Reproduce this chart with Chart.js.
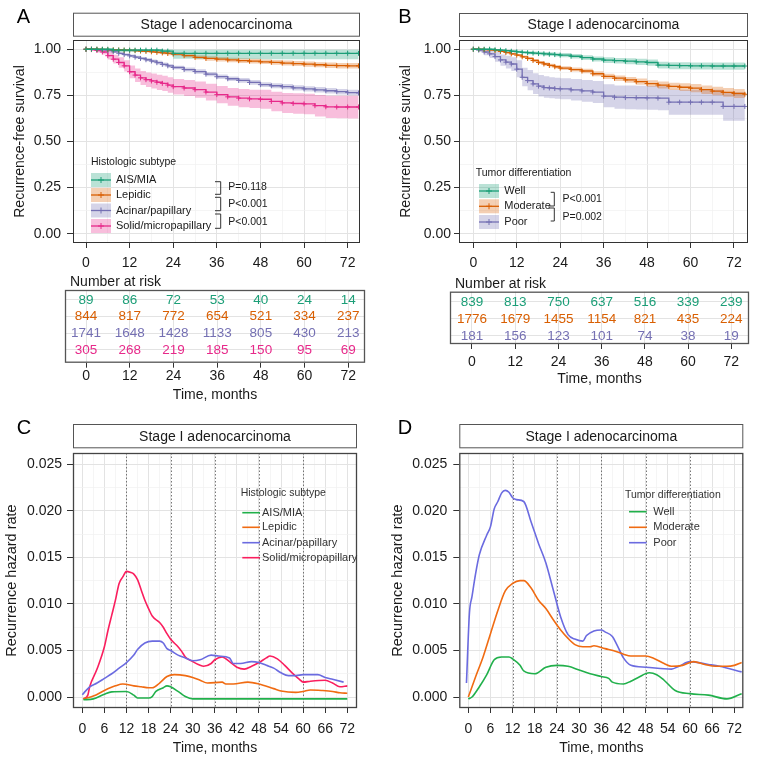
<!DOCTYPE html>
<html>
<head>
<meta charset="utf-8">
<script src="https://cdn.jsdelivr.net/npm/chart.js@4.4.0/dist/chart.umd.min.js"></script>
<style>
  body { margin: 0; background: #fff; }
  #wrap { position: relative; width: 759px; height: 759px; overflow: hidden; background: #fff; }
  canvas { position: absolute; }
</style>
</head>
<body>
<div id="wrap"></div>
<script>
// ---------- data ----------
const groupsA = ["AIS/MIA", "Lepidic", "Acinar/papillary", "Solid/micropapillary"];
const groupsB = ["Well", "Moderate", "Poor"];
const pvalsA = ["P=0.118", "P<0.001", "P<0.001"];
const pvalsB = ["P<0.001", "P=0.002"];

// Kaplan-Meier estimates read off panels A and B (months)
const kmTimes = [0, 1.5, 3, 4.5, 6, 7.5, 9, 10.5, 12, 13.5, 15, 16.5, 18, 19.5, 21, 22.5, 24,
  27, 30, 33, 36, 39, 42, 45, 48, 51, 54, 57, 60, 63, 66, 69, 72, 75];

const survAis = [1, 1, 1, 1, 1, 0.995, 0.995, 0.995, 0.995, 0.995, 0.995, 0.995, 0.995, 0.995, 0.99, 0.99, 0.978,
  0.978, 0.978, 0.978, 0.978, 0.978, 0.978, 0.978, 0.978, 0.978, 0.978, 0.978, 0.978, 0.978, 0.978, 0.978, 0.978, 0.978];
const lowAis  = [1, 1, 1, 1, 1, 0.985, 0.985, 0.985, 0.985, 0.985, 0.985, 0.985, 0.985, 0.985, 0.975, 0.975, 0.948,
  0.948, 0.947, 0.947, 0.947, 0.947, 0.947, 0.947, 0.946, 0.946, 0.946, 0.946, 0.946, 0.946, 0.946, 0.946, 0.946, 0.946];
const upAis   = [1, 1, 1, 1, 1, 1, 1, 1, 1, 1, 1, 1, 1, 1, 0.998, 0.998, 0.997,
  0.997, 0.997, 0.997, 0.997, 0.997, 0.997, 0.997, 0.997, 0.997, 0.997, 0.997, 0.997, 0.997, 0.997, 0.997, 0.997, 0.997];

const survLep = [1, 1, 1, 0.999, 0.998, 0.997, 0.996, 0.995, 0.994, 0.992, 0.99, 0.988, 0.986, 0.983, 0.98, 0.977, 0.973,
  0.965, 0.956, 0.95, 0.946, 0.942, 0.938, 0.935, 0.932, 0.929, 0.925, 0.922, 0.919, 0.916, 0.913, 0.911, 0.91, 0.91];
const lowLep  = [1, 1, 1, 0.997, 0.995, 0.994, 0.992, 0.99, 0.989, 0.987, 0.984, 0.982, 0.979, 0.976, 0.972, 0.968, 0.964,
  0.955, 0.945, 0.938, 0.934, 0.93, 0.926, 0.923, 0.92, 0.916, 0.912, 0.909, 0.905, 0.902, 0.898, 0.896, 0.895, 0.894];
const upLep   = [1, 1, 1, 1, 1, 1, 1, 1, 0.999, 0.998, 0.996, 0.995, 0.993, 0.991, 0.988, 0.985, 0.982,
  0.975, 0.967, 0.962, 0.958, 0.954, 0.951, 0.948, 0.945, 0.942, 0.939, 0.936, 0.933, 0.93, 0.928, 0.926, 0.925, 0.925];

const survAci = [1, 1, 0.998, 0.996, 0.992, 0.986, 0.978, 0.971, 0.964, 0.957, 0.95, 0.943, 0.936, 0.927, 0.918, 0.91, 0.901,
  0.89, 0.879, 0.865, 0.851, 0.84, 0.831, 0.82, 0.808, 0.802, 0.797, 0.791, 0.785, 0.78, 0.775, 0.77, 0.765, 0.763];
const lowAci  = [1, 1, 0.996, 0.993, 0.988, 0.981, 0.972, 0.964, 0.957, 0.949, 0.942, 0.935, 0.927, 0.917, 0.908, 0.9, 0.891,
  0.879, 0.867, 0.853, 0.839, 0.828, 0.818, 0.807, 0.795, 0.788, 0.783, 0.777, 0.771, 0.765, 0.76, 0.755, 0.75, 0.748];
const upAci   = [1, 1, 1, 0.999, 0.996, 0.991, 0.984, 0.978, 0.971, 0.965, 0.958, 0.952, 0.945, 0.937, 0.928, 0.92, 0.911,
  0.901, 0.891, 0.877, 0.863, 0.852, 0.844, 0.833, 0.821, 0.816, 0.811, 0.805, 0.799, 0.795, 0.79, 0.785, 0.78, 0.778];

const survSol = [1, 0.998, 0.993, 0.985, 0.965, 0.946, 0.928, 0.91, 0.878, 0.86, 0.845, 0.835, 0.828, 0.821, 0.815, 0.806, 0.797,
  0.79, 0.781, 0.768, 0.754, 0.742, 0.735, 0.731, 0.729, 0.717, 0.709, 0.706, 0.704, 0.694, 0.688, 0.687, 0.687, 0.687];
const lowSol  = [1, 0.99, 0.982, 0.971, 0.944, 0.922, 0.9, 0.879, 0.843, 0.823, 0.806, 0.795, 0.787, 0.779, 0.773, 0.764, 0.755,
  0.747, 0.737, 0.722, 0.707, 0.694, 0.686, 0.681, 0.678, 0.664, 0.655, 0.651, 0.647, 0.636, 0.628, 0.626, 0.625, 0.624];
const upSol   = [1, 1, 1, 0.996, 0.985, 0.97, 0.956, 0.94, 0.912, 0.896, 0.882, 0.874, 0.868, 0.862, 0.856, 0.848, 0.839,
  0.833, 0.825, 0.813, 0.801, 0.79, 0.784, 0.781, 0.78, 0.77, 0.763, 0.761, 0.759, 0.752, 0.748, 0.748, 0.748, 0.748];

const survWell = [1, 1, 1, 1, 0.997, 0.995, 0.992, 0.989, 0.986, 0.983, 0.981, 0.979, 0.977, 0.975, 0.973, 0.971, 0.968,
  0.962, 0.955, 0.947, 0.941, 0.938, 0.935, 0.932, 0.928, 0.914, 0.912, 0.911, 0.91, 0.91, 0.909, 0.909, 0.909, 0.909];
const lowWell  = [1, 1, 1, 0.998, 0.994, 0.991, 0.987, 0.983, 0.979, 0.976, 0.973, 0.97, 0.968, 0.965, 0.963, 0.96, 0.957,
  0.95, 0.942, 0.933, 0.926, 0.922, 0.918, 0.914, 0.91, 0.895, 0.892, 0.891, 0.89, 0.89, 0.889, 0.889, 0.889, 0.889];
const upWell   = [1, 1, 1, 1, 1, 0.999, 0.997, 0.995, 0.993, 0.991, 0.989, 0.988, 0.986, 0.985, 0.983, 0.981, 0.979,
  0.974, 0.968, 0.961, 0.956, 0.953, 0.951, 0.949, 0.945, 0.932, 0.93, 0.929, 0.928, 0.928, 0.928, 0.928, 0.928, 0.928];

const survMod = [1, 1, 0.998, 0.996, 0.993, 0.988, 0.982, 0.975, 0.968, 0.959, 0.95, 0.939, 0.928, 0.92, 0.912, 0.905, 0.898,
  0.89, 0.882, 0.867, 0.853, 0.843, 0.834, 0.824, 0.814, 0.806, 0.799, 0.794, 0.789, 0.781, 0.773, 0.766, 0.76, 0.756];
const lowMod  = [1, 0.998, 0.995, 0.992, 0.989, 0.983, 0.977, 0.969, 0.962, 0.952, 0.943, 0.931, 0.92, 0.911, 0.903, 0.895, 0.888,
  0.879, 0.87, 0.854, 0.839, 0.828, 0.818, 0.807, 0.796, 0.787, 0.779, 0.773, 0.767, 0.758, 0.75, 0.742, 0.736, 0.732];
const upMod   = [1, 1, 1, 0.999, 0.997, 0.993, 0.987, 0.981, 0.974, 0.966, 0.957, 0.947, 0.936, 0.928, 0.921, 0.914, 0.908,
  0.901, 0.894, 0.88, 0.867, 0.858, 0.85, 0.841, 0.832, 0.825, 0.819, 0.815, 0.811, 0.804, 0.796, 0.79, 0.784, 0.78];

const survPoor = [1, 0.995, 0.985, 0.975, 0.96, 0.942, 0.93, 0.92, 0.892, 0.848, 0.83, 0.812, 0.8, 0.792, 0.79, 0.787, 0.785,
  0.78, 0.774, 0.768, 0.746, 0.74, 0.738, 0.737, 0.736, 0.735, 0.713, 0.713, 0.713, 0.713, 0.713, 0.69, 0.69, 0.69];
const lowPoor  = [1, 0.985, 0.967, 0.952, 0.932, 0.91, 0.895, 0.882, 0.848, 0.8, 0.778, 0.758, 0.744, 0.737, 0.735, 0.732, 0.729,
  0.722, 0.715, 0.708, 0.685, 0.677, 0.675, 0.673, 0.672, 0.67, 0.645, 0.645, 0.645, 0.645, 0.645, 0.613, 0.613, 0.613];
const upPoor   = [1, 1, 1, 0.995, 0.985, 0.972, 0.964, 0.956, 0.94, 0.9, 0.888, 0.87, 0.86, 0.853, 0.848, 0.846, 0.843,
  0.838, 0.833, 0.828, 0.81, 0.804, 0.803, 0.802, 0.801, 0.8, 0.781, 0.781, 0.781, 0.781, 0.781, 0.767, 0.767, 0.767];

// number at risk
const riskTimes = [0, 12, 24, 36, 48, 60, 72];
const riskAis  = [89, 86, 72, 53, 40, 24, 14];
const riskLep  = [844, 817, 772, 654, 521, 334, 237];
const riskAci  = [1741, 1648, 1428, 1133, 805, 430, 213];
const riskSol  = [305, 268, 219, 185, 150, 95, 69];
const riskWell = [839, 813, 750, 637, 516, 339, 239];
const riskMod  = [1776, 1679, 1455, 1154, 821, 435, 224];
const riskPoor = [181, 156, 123, 101, 74, 38, 19];

// hazard curves, panel C
const hzAisT = [0.3, 3, 6, 8, 12, 14, 15, 18, 19, 20, 22, 23, 24, 26, 28, 30, 40, 50, 60, 72];
const hzAis  = [-0.0003, -0.0002, 0.0003, 0.00055, 0.0006, 0.0002, -0.0001, -0.0001, 0.00005, 0.0006, 0.001, 0.0012, 0.0011, 0.0006, 0.00005, -0.0002, -0.0002, -0.0002, -0.0002, -0.0002];
const hzLepT = [0.3, 3, 6, 9, 11, 14, 16, 18, 19, 21, 23, 25, 28, 30, 32, 34, 38, 39, 41, 45, 48, 52, 54, 58, 60, 62, 65, 68, 70, 72];
const hzLep  = [-0.0002, 0.0001, 0.0007, 0.0012, 0.0014, 0.0012, 0.0011, 0.001, 0.001, 0.0015, 0.0022, 0.0024, 0.0023, 0.0021, 0.0018, 0.0015, 0.0016, 0.0014, 0.0014, 0.0016, 0.0014, 0.0009, 0.00065, 0.0005, 0.0006, 0.00075, 0.0007, 0.0006, 0.00045, 0.0004];
const hzAciT = [0, 2, 4, 6, 8, 10, 12, 14, 15, 17, 19, 21, 22, 23, 24, 26, 28, 30, 32, 35, 37, 40, 41, 43, 46, 48, 50, 52, 54, 56, 58, 60, 64, 66, 68, 71];
const hzAci  = [0.00025, 0.0011, 0.0015, 0.002, 0.0025, 0.0031, 0.0037, 0.0045, 0.0051, 0.0058, 0.006, 0.006, 0.0058, 0.0052, 0.005, 0.0045, 0.0042, 0.0039, 0.004, 0.0045, 0.0044, 0.0042, 0.0036, 0.0036, 0.0038, 0.0037, 0.0034, 0.0031, 0.0026, 0.0023, 0.0023, 0.0024, 0.0024, 0.0021, 0.0019, 0.0016];
const hzSolT = [0.3, 1.5, 2, 4, 6, 7, 8, 9, 10, 11, 12, 13, 14, 15, 16, 17, 18, 19, 21, 22, 23, 24, 26, 27, 28, 30, 32, 33, 35, 36, 38, 40, 42, 44, 46, 48, 50, 51, 53, 55, 57, 59, 60, 62, 66, 68, 70, 72];
const hzSol  = [-0.0002, 0.0002, 0.0011, 0.003, 0.0054, 0.0072, 0.0088, 0.0104, 0.0122, 0.0129, 0.0135, 0.0134, 0.0132, 0.0126, 0.0115, 0.0104, 0.0095, 0.0087, 0.008, 0.0075, 0.0068, 0.0062, 0.0054, 0.0049, 0.0043, 0.0038, 0.0034, 0.0033, 0.0036, 0.004, 0.0043, 0.0038, 0.0032, 0.003, 0.0033, 0.0037, 0.0042, 0.0044, 0.0041, 0.0034, 0.0026, 0.0019, 0.0016, 0.0017, 0.0018, 0.0015, 0.0011, 0.0012];

// hazard curves, panel D
const hzWellT = [0, 1, 3, 5, 7, 9, 11, 12, 14, 15, 18, 21, 24, 27, 30, 33, 36, 38, 39, 42, 44, 46, 49, 51, 53, 56, 60, 65, 70, 74];
const hzWell  = [-0.0002, 0, 0.0011, 0.0024, 0.004, 0.0043, 0.0043, 0.0041, 0.0034, 0.0028, 0.0025, 0.0032, 0.0034, 0.0033, 0.0029, 0.0025, 0.0022, 0.002, 0.0016, 0.0014, 0.0017, 0.0021, 0.0026, 0.0024, 0.0018, 0.0007, 0.00036, 0.0002, -0.0002, 0.00036];
const hzModT = [0, 2, 4, 6, 8, 10, 12, 14, 15, 17, 19, 21, 23, 25, 27, 29, 31, 33, 34, 37, 40, 42, 44, 48, 50, 53, 55, 58, 61, 64, 67, 70, 72, 74];
const hzMod  = [0, 0.0022, 0.0043, 0.0068, 0.0093, 0.0114, 0.0122, 0.0125, 0.0125, 0.0117, 0.0104, 0.0095, 0.0083, 0.0072, 0.0063, 0.0056, 0.0054, 0.0054, 0.0055, 0.0052, 0.0049, 0.0046, 0.0044, 0.0044, 0.0042, 0.0036, 0.0033, 0.0034, 0.0038, 0.0035, 0.0033, 0.0033, 0.0034, 0.0037];
const hzPoorT = [-0.5, 0.3, 1, 2, 3, 5, 6, 7, 8, 9, 10, 11, 12, 13, 15, 17, 19, 21, 23, 25, 27, 29, 31, 32, 34, 36, 37, 39, 40, 42, 44, 48, 55, 57, 60, 65, 68, 74];
const hzPoor  = [0.0015, 0.009, 0.0108, 0.0133, 0.0153, 0.0174, 0.0183, 0.0202, 0.021, 0.0219, 0.0222, 0.022, 0.0214, 0.0212, 0.021, 0.0188, 0.0165, 0.0144, 0.0115, 0.0086, 0.0067, 0.0062, 0.006, 0.0066, 0.0071, 0.0072, 0.007, 0.0065, 0.0058, 0.0042, 0.0034, 0.0032, 0.003, 0.0033, 0.0038, 0.0035, 0.0033, 0.0027];

// ticks
const kmGridX = [0, 6, 12, 18, 24, 30, 36, 42, 48, 54, 60, 66, 72];
const kmLabelX = [0, 12, 24, 36, 48, 60, 72];
const kmGridY = [0, 0.125, 0.25, 0.375, 0.5, 0.625, 0.75, 0.875, 1];
const kmLabelY = [0, 0.25, 0.5, 0.75, 1];
const hzGridX = [0, 3, 6, 9, 12, 15, 18, 21, 24, 27, 30, 33, 36, 39, 42, 45, 48, 51, 54, 57, 60, 63, 66, 69, 72];
const hzLabelX = [0, 6, 12, 18, 24, 30, 36, 42, 48, 54, 60, 66, 72];
const hzGridY = [0, 0.0025, 0.005, 0.0075, 0.01, 0.0125, 0.015, 0.0175, 0.02, 0.0225, 0.025];
const hzLabelY = [0, 0.005, 0.01, 0.015, 0.02, 0.025];
const hzMarks = [12, 24, 36, 48, 60];

// ---------- style ----------
const FONT = "'Liberation Sans', Arial, Helvetica, sans-serif";
const kmCol = { green: "#1b9e77", orange: "#d95f02", purple: "#7570b3", pink: "#e7298a" };
const kmFill = { green: "rgba(27,158,119,0.3)", orange: "rgba(217,95,2,0.3)", purple: "rgba(117,112,179,0.3)", pink: "rgba(231,41,138,0.3)" };
const hzCol = { green: "#21b04b", orange: "#f06b12", blue: "#6b6be0", pink: "#fa1e5e" };

Chart.defaults.font.family = FONT;
Chart.defaults.color = "#1a1a1a";
Chart.defaults.animation = false;
Chart.defaults.plugins.legend.display = false;
Chart.defaults.plugins.tooltip.enabled = false;

function addCanvas(left, top, w, h) {
  const c = document.createElement("canvas");
  c.width = w; c.height = h;
  c.style.left = left + "px"; c.style.top = top + "px";
  c.style.width = w + "px"; c.style.height = h + "px";
  document.getElementById("wrap").appendChild(c);
  return c;
}

function near(v, list) { return list.some(m => Math.abs(m - v) < 1e-9); }

function axis(o) {
  const major = c => c.tick && near(c.tick.value, o.labels);
  return {
    type: "linear", min: o.min, max: o.max, reverse: !!o.reverse,
    afterBuildTicks: ax => { ax.ticks = o.grid.map(v => ({ value: v })); },
    afterFit: ax => { ax[o.fitKey] = o.fit; },
    ticks: {
      display: o.showLabels !== false, autoSkip: false, maxRotation: 0, minRotation: 0,
      padding: o.pad || 0, font: { size: o.size || 14, lineHeight: 1 }, color: "#1a1a1a",
      callback: v => near(v, o.labels) ? o.fmt(v) : ""
    },
    grid: {
      color: c => major(c) ? "#e3e3e3" : "#f1f1f1",
      lineWidth: c => major(c) ? 1 : 0.7,
      tickColor: c => major(c) ? "#333333" : "rgba(0,0,0,0)",
      tickWidth: 1, tickLength: o.tickLen || 0, drawTicks: !!o.tickLen
    },
    border: { display: false },
    title: o.title
      ? { display: true, text: o.title, color: "#1a1a1a", font: { size: o.titleSize || 14, lineHeight: 1 }, padding: o.titlePad }
      : { display: false }
  };
}

function decor(o) {
  return {
    id: "decor",
    beforeDatasetsDraw(chart) {
      if (!o.vlines) return;
      const { ctx, chartArea: a, scales: { x } } = chart;
      ctx.save();
      ctx.strokeStyle = "#555"; ctx.lineWidth = 0.8; ctx.setLineDash([1.5, 2]);
      o.vlines.forEach(v => {
        const px = Math.round(x.getPixelForValue(v)) + 0.5;
        ctx.beginPath(); ctx.moveTo(px, a.top); ctx.lineTo(px, a.bottom); ctx.stroke();
      });
      ctx.restore();
    },
    afterDraw(chart) {
      const { ctx, chartArea: a } = chart;
      ctx.save();
      ctx.strokeStyle = o.borderColor || "#333"; ctx.lineWidth = o.borderWidth || 1;
      ctx.strokeRect(a.left + 0.5, a.top + 0.5, a.right - a.left - 1, a.bottom - a.top - 1);
      ctx.translate(-o.off[0], -o.off[1]);
      if (o.strip) {
        const x1 = a.left + o.off[0], x2 = a.right + o.off[0];
        ctx.strokeStyle = "#555"; ctx.lineWidth = 1;
        ctx.strokeRect(x1 + 0.5, o.strip[0] + 0.5, x2 - x1 - 1, o.strip[1] - o.strip[0]);
        ctx.fillStyle = "#1a1a1a"; ctx.font = "14px " + FONT;
        ctx.textAlign = "center"; ctx.textBaseline = "middle";
        ctx.fillText("Stage I adenocarcinoma", (x1 + x2) / 2, (o.strip[0] + o.strip[1]) / 2 + 1);
      }
      if (o.label) {
        ctx.fillStyle = "#000"; ctx.font = "20px " + FONT;
        ctx.textAlign = "center"; ctx.textBaseline = "middle";
        ctx.fillText(o.label[0], o.label[1], o.label[2]);
      }
      if (o.note) {
        ctx.fillStyle = "#1a1a1a"; ctx.font = "14px " + FONT;
        ctx.textAlign = "left"; ctx.textBaseline = "middle";
        ctx.fillText(o.note[0], o.note[1], o.note[2]);
      }
      if (o.legend) o.legend(ctx);
      ctx.restore();
    }
  };
}

function cross(ctx, x, y, r) {
  ctx.beginPath();
  ctx.moveTo(x - r, y); ctx.lineTo(x + r, y);
  ctx.moveTo(x, y - r); ctx.lineTo(x, y + r);
  ctx.stroke();
}

function kmLegend(title, tx, ty, names, cols, fills, ys, kx, lx) {
  return ctx => {
    ctx.textAlign = "left"; ctx.textBaseline = "middle";
    ctx.fillStyle = "#1a1a1a"; ctx.font = "10.5px " + FONT;
    ctx.fillText(title, tx, ty);
    ctx.font = "11px " + FONT;
    names.forEach((n, i) => {
      const y = ys[i];
      ctx.fillStyle = fills[i]; ctx.fillRect(kx, y - 7, 20, 14);
      ctx.strokeStyle = cols[i]; ctx.lineWidth = 1.3;
      ctx.beginPath(); ctx.moveTo(kx, y); ctx.lineTo(kx + 20, y); ctx.stroke();
      ctx.lineWidth = 1; cross(ctx, kx + 10, y, 3);
      ctx.fillStyle = "#1a1a1a"; ctx.fillText(n, lx, y);
    });
  };
}

function bracket(ctx, x, y1, y2, s1, s2) {
  ctx.strokeStyle = "#333"; ctx.lineWidth = 1;
  ctx.beginPath();
  ctx.moveTo(x - s1, y1); ctx.lineTo(x, y1); ctx.lineTo(x, y2); ctx.lineTo(x - s2, y2);
  ctx.stroke();
}

function hzLegend(title, tx, ty, names, cols, ys, x1, x2, lx) {
  return ctx => {
    ctx.textAlign = "left"; ctx.textBaseline = "middle";
    ctx.fillStyle = "#333"; ctx.font = "10.5px " + FONT;
    ctx.fillText(title, tx, ty);
    ctx.font = "11px " + FONT;
    names.forEach((n, i) => {
      ctx.strokeStyle = cols[i]; ctx.lineWidth = 1.6;
      ctx.beginPath(); ctx.moveTo(x1, ys[i]); ctx.lineTo(x2, ys[i]); ctx.stroke();
      ctx.fillStyle = "#333"; ctx.fillText(n, lx, ys[i]);
    });
  };
}

function kmSets(surv, lo, hi, col, fill) {
  const pts = arr => kmTimes.map((t, i) => ({ x: t, y: arr[i] }));
  return [
    { data: pts(hi), stepped: true, borderWidth: 0, borderColor: "rgba(0,0,0,0)", pointRadius: 0, fill: false, order: 2 },
    { data: pts(lo), stepped: true, borderWidth: 0, borderColor: "rgba(0,0,0,0)", pointRadius: 0, fill: "-1", backgroundColor: fill, order: 2 },
    { data: pts(surv), stepped: true, borderColor: col, borderWidth: 1.3, fill: false, pointStyle: "cross",
      pointRadius: 2.5, pointBorderColor: col, pointBorderWidth: 1, pointBackgroundColor: col, order: 0 }
  ];
}

function hzSet(t, h, col) {
  return { data: t.map((x, i) => ({ x: x, y: h[i] })), borderColor: col, borderWidth: 1.6,
    pointRadius: 0, tension: 0.3, cubicInterpolationMode: "monotone", fill: false };
}

const riskText = {
  id: "riskText",
  afterDatasetsDraw(chart) {
    const ctx = chart.ctx;
    chart.data.datasets.forEach((ds, i) => {
      const meta = chart.getDatasetMeta(i);
      ctx.save();
      ctx.font = "13.5px " + FONT; ctx.fillStyle = ds.textColor;
      ctx.textAlign = "center"; ctx.textBaseline = "middle";
      meta.data.forEach((pt, j) => ctx.fillText(String(ds.counts[j]), pt.x, pt.y + 0.5));
      ctx.restore();
    });
  }
};

function riskSet(counts, row, col) {
  return { data: riskTimes.map(t => ({ x: t, y: row })), counts: counts, textColor: col, pointRadius: 0, showLine: false };
}

// ---------- panel A ----------
{
  const off = [0, 0];
  const c = addCanvas(0, 0, 375, 272);
  const sets = [].concat(
    kmSets(survAis, lowAis, upAis, kmCol.green, kmFill.green),
    kmSets(survLep, lowLep, upLep, kmCol.orange, kmFill.orange),
    kmSets(survAci, lowAci, upAci, kmCol.purple, kmFill.purple),
    kmSets(survSol, lowSol, upSol, kmCol.pink, kmFill.pink)
  );
  const leg = kmLegend("Histologic subtype", 91, 162, groupsA,
    [kmCol.green, kmCol.orange, kmCol.purple, kmCol.pink],
    [kmFill.green, kmFill.orange, kmFill.purple, kmFill.pink],
    [180, 195, 210.5, 226], 91, 116);
  new Chart(c, {
    type: "line",
    data: { datasets: sets },
    options: {
      responsive: false, devicePixelRatio: 1,
      layout: { padding: { top: 40, right: 15, left: 0, bottom: 0 } },
      scales: {
        x: axis({ min: -3.58, max: 75.4, grid: kmGridX, labels: kmLabelX, fmt: v => String(v), fitKey: "height", fit: 29, tickLen: 5, pad: 8 }),
        y: axis({ min: -0.05, max: 1.05, grid: kmGridY, labels: kmLabelY, fmt: v => v.toFixed(2), fitKey: "width", fit: 73, tickLen: 6, pad: 6,
          title: "Recurrence-free survival", titlePad: { top: 13, bottom: 0 } })
      }
    },
    plugins: [decor({ off, strip: [12.7, 35.7], label: ["A", 23.5, 17.5], legend: ctx => {
      leg(ctx);
      bracket(ctx, 220.7, 181.7, 194.3, 5.7, 5.7);
      bracket(ctx, 220.7, 197.3, 210.7, 5.7, 5.7);
      bracket(ctx, 220.7, 214, 228.3, 5.7, 5.7);
      ctx.font = "10.5px " + FONT; ctx.fillStyle = "#1a1a1a";
      ctx.fillText(pvalsA[0], 228.3, 186.7);
      ctx.fillText(pvalsA[1], 228.3, 204);
      ctx.fillText(pvalsA[2], 228.3, 221.7);
    } })]
  });
}

// ---------- panel B ----------
{
  const off = [380, 0];
  const c = addCanvas(380, 0, 379, 272);
  const sets = [].concat(
    kmSets(survWell, lowWell, upWell, kmCol.green, kmFill.green),
    kmSets(survMod, lowMod, upMod, kmCol.orange, kmFill.orange),
    kmSets(survPoor, lowPoor, upPoor, kmCol.purple, kmFill.purple)
  );
  const leg = kmLegend("Tumor differentiation", 475.7, 173.3, groupsB,
    [kmCol.green, kmCol.orange, kmCol.purple],
    [kmFill.green, kmFill.orange, kmFill.purple],
    [191, 206.3, 222], 479, 504.3);
  new Chart(c, {
    type: "line",
    data: { datasets: sets },
    options: {
      responsive: false, devicePixelRatio: 1,
      layout: { padding: { top: 40, right: 11, left: 0, bottom: 0 } },
      scales: {
        x: axis({ min: -3.95, max: 75.87, grid: kmGridX, labels: kmLabelX, fmt: v => String(v), fitKey: "height", fit: 29, tickLen: 5, pad: 8 }),
        y: axis({ min: -0.05, max: 1.05, grid: kmGridY, labels: kmLabelY, fmt: v => v.toFixed(2), fitKey: "width", fit: 79, tickLen: 5, pad: 3,
          title: "Recurrence-free survival", titlePad: { top: 18.7, bottom: 0 } })
      }
    },
    plugins: [decor({ off, strip: [13, 36], label: ["B", 405, 17.5], legend: ctx => {
      leg(ctx);
      bracket(ctx, 554.3, 192.3, 206, 3.6, 6);
      bracket(ctx, 554.3, 208, 221, 6, 3.6);
      ctx.font = "10.5px " + FONT; ctx.fillStyle = "#1a1a1a";
      ctx.fillText(pvalsB[0], 562.5, 199.3);
      ctx.fillText(pvalsB[1], 562.5, 216.7);
    } })]
  });
}

// ---------- risk table A ----------
{
  const c = addCanvas(0, 270, 375, 135);
  new Chart(c, {
    type: "scatter",
    data: { datasets: [
      riskSet(riskAis, 1, kmCol.green), riskSet(riskLep, 2, kmCol.orange),
      riskSet(riskAci, 3, kmCol.purple), riskSet(riskSol, 4, kmCol.pink)
    ] },
    options: {
      responsive: false, devicePixelRatio: 1,
      layout: { padding: { top: 20, right: 10, left: 0, bottom: 0 } },
      scales: {
        x: axis({ min: -5.8, max: 76.6, grid: riskTimes, labels: riskTimes, fmt: v => String(v), fitKey: "height", fit: 42.3, tickLen: 5, pad: 1.5,
          title: "Time, months", titlePad: { top: 0, bottom: 3 } }),
        y: axis({ min: 0.44, max: 4.76, reverse: true, grid: [1, 2, 3, 4], labels: [1, 2, 3, 4], fmt: v => "", fitKey: "width", fit: 65, showLabels: false })
      }
    },
    plugins: [riskText, decor({ off: [0, 270], borderColor: "#555", borderWidth: 1.3, note: ["Number at risk", 70, 282] })]
  });
}

// ---------- risk table B ----------
{
  const c = addCanvas(380, 270, 379, 116);
  new Chart(c, {
    type: "scatter",
    data: { datasets: [
      riskSet(riskWell, 1, kmCol.green), riskSet(riskMod, 2, kmCol.orange), riskSet(riskPoor, 3, kmCol.purple)
    ] },
    options: {
      responsive: false, devicePixelRatio: 1,
      layout: { padding: { top: 21.7, right: 10, left: 0, bottom: 0 } },
      scales: {
        x: axis({ min: -6.1, max: 76.9, grid: riskTimes, labels: riskTimes, fmt: v => String(v), fitKey: "height", fit: 42, tickLen: 5, pad: 6,
          title: "Time, months", titlePad: { top: 0, bottom: 0 } }),
        y: axis({ min: 0.42, max: 3.47, reverse: true, grid: [1, 2, 3], labels: [1, 2, 3], fmt: v => "", fitKey: "width", fit: 70, showLabels: false })
      }
    },
    plugins: [riskText, decor({ off: [380, 270], borderColor: "#555", borderWidth: 1.3, note: ["Number at risk", 455, 284] })]
  });
}

// ---------- panel C ----------
{
  const off = [0, 400];
  const c = addCanvas(0, 400, 375, 359);
  new Chart(c, {
    type: "line",
    data: { datasets: [
      hzSet(hzAisT, hzAis, hzCol.green), hzSet(hzLepT, hzLep, hzCol.orange),
      hzSet(hzAciT, hzAci, hzCol.blue), hzSet(hzSolT, hzSol, hzCol.pink)
    ] },
    options: {
      responsive: false, devicePixelRatio: 1,
      layout: { padding: { top: 53, right: 18, left: 0, bottom: 0 } },
      scales: {
        x: axis({ min: -2.53, max: 74.64, grid: hzGridX, labels: hzLabelX, fmt: v => String(v), fitKey: "height", fit: 51, tickLen: 5, pad: 8.8,
          title: "Time, months", titlePad: { top: 0, bottom: 3.7 } }),
        y: axis({ min: -0.00118, max: 0.02621, grid: hzGridY, labels: hzLabelY, fmt: v => v.toFixed(3), fitKey: "width", fit: 73, tickLen: 6, pad: 5,
          title: "Recurrence hazard rate", titleSize: 14.5, titlePad: { top: 4.5, bottom: 0 } })
      }
    },
    plugins: [decor({ off, vlines: hzMarks, borderColor: "#444", borderWidth: 1.3, strip: [424, 447.3], label: ["C", 24, 428],
      legend: hzLegend("Histologic subtype", 240.7, 492.7, groupsA, [hzCol.green, hzCol.orange, hzCol.blue, hzCol.pink],
        [512.7, 527.3, 542.7, 557.7], 242.3, 260, 262) })]
  });
}

// ---------- panel D ----------
{
  const off = [380, 400];
  const c = addCanvas(380, 400, 379, 359);
  new Chart(c, {
    type: "line",
    data: { datasets: [
      hzSet(hzWellT, hzWell, hzCol.green), hzSet(hzModT, hzMod, hzCol.orange), hzSet(hzPoorT, hzPoor, hzCol.blue)
    ] },
    options: {
      responsive: false, devicePixelRatio: 1,
      layout: { padding: { top: 53, right: 15.7, left: 0, bottom: 0 } },
      scales: {
        x: axis({ min: -2.44, max: 74.44, grid: hzGridX, labels: hzLabelX, fmt: v => String(v), fitKey: "height", fit: 51, tickLen: 5, pad: 8.8,
          title: "Time, months", titlePad: { top: 0, bottom: 3.7 } }),
        y: axis({ min: -0.00118, max: 0.02621, grid: hzGridY, labels: hzLabelY, fmt: v => v.toFixed(3), fitKey: "width", fit: 79.3, tickLen: 6, pad: 6,
          title: "Recurrence hazard rate", titleSize: 14.5, titlePad: { top: 11, bottom: 0 } })
      }
    },
    plugins: [decor({ off, vlines: hzMarks, borderColor: "#444", borderWidth: 1.3, strip: [424, 447.3], label: ["D", 405, 428],
      legend: hzLegend("Tumor differentiation", 625, 495, groupsB, [hzCol.green, hzCol.orange, hzCol.blue],
        [511.7, 527.3, 542.7], 629, 646.7, 653.3) })]
  });
}
</script>
</body>
</html>
